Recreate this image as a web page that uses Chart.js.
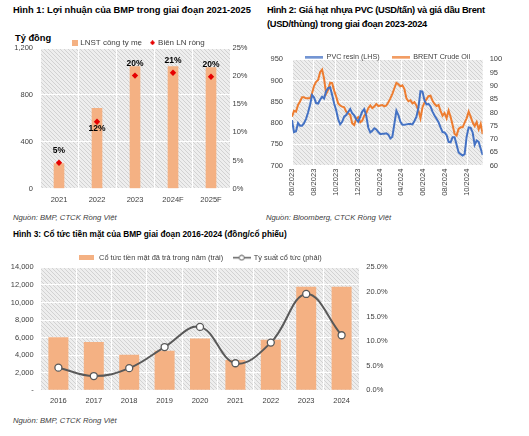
<!DOCTYPE html>
<html>
<head>
<meta charset="utf-8">
<script src="https://cdn.jsdelivr.net/npm/chart.js@4.4.1/dist/chart.umd.min.js"></script>
<style>
body { margin: 0; background: #fff; }
#page { position: relative; width: 529px; height: 436px; overflow: hidden; font-family: "Liberation Sans", Arial, sans-serif; color: #000; }
.t { position: absolute; font-weight: bold; font-size: 9.3px; line-height: 12px; white-space: nowrap; }
.src { position: absolute; font-style: italic; font-size: 7.7px; line-height: 10px; color: #404040; white-space: nowrap; }
.box { position: absolute; }
</style>
</head>
<body>
<div id="page">
  <div class="t" style="left:13px;top:4px">Hình 1: Lợi nhuận của BMP trong giai đoạn 2021-2025</div>
  <div class="t" style="left:267px;top:4px;letter-spacing:-0.3px">Hình 2: Giá hạt nhựa PVC (USD/tấn) và giá dầu Brent</div>
  <div class="t" style="left:267px;top:18px;letter-spacing:-0.3px">(USD/thùng) trong giai đoạn 2023-2024</div>
  <div class="t" style="left:15px;top:32px">Tỷ đồng</div>
  <div class="box" style="left:0;top:21px;width:262px;height:189px"><canvas id="c1" width="262" height="189"></canvas></div>
  <div class="box" style="left:262px;top:30px;width:267px;height:172px"><canvas id="c2" width="267" height="172"></canvas></div>
  <div class="src" style="left:13px;top:213px">Nguồn: BMP, CTCK Rồng Việt</div>
  <div class="src" style="left:266px;top:213px">Nguồn: Bloomberg, CTCK Rồng Việt</div>
  <div class="t" style="left:13px;top:228px;font-size:8.3px">Hình 3: Cổ tức tiền mặt của BMP giai đoạn 2016-2024 (đồng/cổ phiếu)</div>
  <div class="box" style="left:0;top:240px;width:400px;height:175px"><canvas id="c3" width="400" height="175"></canvas></div>
  <div class="src" style="left:13px;top:416px">Nguồn: BMP, CTCK Rồng Việt</div>
</div>
<script>
// ---- Hinh 1 data
const profitYears = ['2021', '2022', '2023', '2024F', '2025F'];
const netProfit = [216, 689, 1044, 1044, 1035];      // ty dong
const netMargin = [4.6, 11.9, 20.1, 20.6, 19.9];      // %
const marginLabelSide = ['above', 'below', 'above', 'above', 'above'];

// ---- Hinh 2 data (samples every ~5.5 days from early 06/2023)
const priceMonthLabels = ['06/2023', '08/2023', '10/2023', '12/2023', '02/2024', '04/2024', '06/2024', '08/2024', '10/2024'];
const priceStepMonths = 0.1835;
const pvcPrice = [
  807, 779, 781, 800, 794, 794, 800, 810, 825, 843,
  866, 860, 847, 846, 855, 862, 858, 875, 882, 884,
  866, 846, 830, 809, 797, 803, 815, 819, 826, 833,
  823, 818, 809, 803, 815, 827, 833, 817, 789, 778,
  782, 788, 785, 779, 774, 775, 775, 776, 773, 764,
  768, 798, 829, 819, 803, 796, 796, 797, 798, 798,
  797, 805, 815, 837, 875, 874, 853, 844, 845, 839,
  827, 818, 810, 802, 790, 779, 778, 772, 756, 755,
  767, 767, 749, 731, 727, 724, 727, 768, 790, 789,
  778, 749, 759, 756, 740, 725
];
const brentPrice = [
  78.4, 80.6, 80.3, 82.8, 84.1, 85.7, 85.7, 85.3, 85.3, 85.3,
  87.2, 90.0, 91.5, 92.2, 95.1, 96.1, 92.6, 87.0, 88.5, 91.2,
  91.0, 88.2, 86.0, 83.4, 82.6, 82.2, 81.9, 80.3, 79.7, 79.1,
  75.9, 75.3, 77.6, 78.2, 76.3, 76.9, 78.8, 79.7, 81.6, 82.6,
  81.6, 82.2, 83.2, 82.4, 82.6, 82.8, 82.3, 82.6, 83.8, 85.3,
  87.0, 89.1, 91.1, 90.6, 89.8, 90.2, 88.8, 85.3, 84.2, 84.6,
  83.4, 83.9, 82.6, 80.7, 77.8, 81.9, 83.7, 85.0, 86.1, 86.3,
  84.4, 83.2, 82.4, 82.8, 80.6, 78.8, 79.8, 77.8, 80.7, 78.4,
  75.3, 71.9, 71.3, 73.8, 74.4, 74.4, 76.2, 77.8, 80.3, 78.4,
  76.2, 74.9, 76.4, 73.7, 75.7, 71.9
];

// ---- Hinh 3 data
const divYears = ['2016', '2017', '2018', '2019', '2020', '2021', '2022', '2023', '2024'];
const cashDividend = [6050, 5500, 4050, 4500, 5900, 3450, 5750, 11800, 11800];   // dong/cp
const divYield = [4.6, 2.9, 4.5, 8.8, 12.9, 5.5, 9.7, 19.6, 11.2];               // %

const FONT = '"Liberation Sans", Arial, sans-serif';
Chart.defaults.font.family = FONT;
Chart.defaults.font.size = 7.5;
Chart.defaults.color = '#404040';
Chart.defaults.animation = false;

const ORANGE_BAR = '#f4b183';

function hatchPattern(ctx) {
  const c = document.createElement('canvas');
  c.width = 4; c.height = 4;
  const g = c.getContext('2d');
  g.fillStyle = '#eeeeee';
  g.fillRect(0, 0, 4, 4);
  g.fillStyle = '#d2d2d2';
  for (let i = 0; i < 4; i++) g.fillRect(i, i, 1, 1);
  return ctx.createPattern(c, 'repeat');
}

// hatched plot background, bounded by the x / left-y scales
const plotBg = {
  id: 'plotBg',
  beforeDraw(chart) {
    const { ctx } = chart;
    const x = chart.scales.x, y = chart.scales.y;
    ctx.save();
    ctx.fillStyle = hatchPattern(ctx);
    ctx.fillRect(x.left, y.top, x.right - x.left, y.bottom - y.top);
    ctx.restore();
  }
};

// move the legend box after layout so it can sit close to / over the plot
const legendShift = {
  id: 'legendShift',
  afterLayout(chart, args, opts) {
    const lg = chart.legend;
    lg.top += opts.dy || 0; lg.bottom += opts.dy || 0;
    lg.left += opts.dx || 0; lg.right += opts.dx || 0;
  }
};

function mark(w, h, draw) {
  const c = document.createElement('canvas');
  c.width = w; c.height = h;
  draw(c.getContext('2d'));
  return c;
}

function legendWith(marks) {
  return function (chart) {
    const items = Chart.defaults.plugins.legend.labels.generateLabels(chart);
    items.forEach(it => { it.pointStyle = marks[it.datasetIndex]; });
    return items.sort((a, b) => a.datasetIndex - b.datasetIndex);
  };
}

const fixW = w => s => { s.width = w; };
const fixH = h => s => { s.height = h; };

// ================= Hinh 1 =================
const marks1 = [
  mark(6, 6, g => { g.fillStyle = ORANGE_BAR; g.fillRect(0, 0, 6, 6); }),
  mark(5, 5, g => { g.fillStyle = '#e60000'; g.beginPath(); g.moveTo(2.5, 0); g.lineTo(5, 2.5); g.lineTo(2.5, 5); g.lineTo(0, 2.5); g.fill(); })
];

const marginLabels = {
  id: 'marginLabels',
  afterDatasetsDraw(chart) {
    const meta = chart.getDatasetMeta(1);
    const ctx = chart.ctx;
    ctx.save();
    ctx.font = 'bold 8.5px ' + FONT;
    ctx.fillStyle = '#000';
    ctx.textAlign = 'center';
    ctx.textBaseline = 'middle';
    meta.data.forEach((pt, i) => {
      const dy = marginLabelSide[i] === 'below' ? 7 : -12;
      ctx.fillText(Math.round(netMargin[i]) + '%', pt.x, pt.y + dy);
    });
    ctx.restore();
  }
};

new Chart(document.getElementById('c1'), {
  type: 'bar',
  data: {
    labels: profitYears,
    datasets: [
      { label: 'LNST công ty mẹ', data: netProfit, backgroundColor: ORANGE_BAR, yAxisID: 'y',
        categoryPercentage: 1, barPercentage: 0.28, order: 1 },
      { type: 'line', label: 'Biên LN ròng', data: netMargin, yAxisID: 'y1', showLine: false,
        pointStyle: 'rectRot', pointRadius: 3.2, backgroundColor: '#e60000', borderColor: '#e60000',
        borderWidth: 0, order: 0 }
    ]
  },
  options: {
    responsive: false,
    layout: { padding: 0 },
    plugins: {
      legend: { position: 'top', labels: { usePointStyle: true, pointStyleWidth: 3, padding: 9, font: { size: 8 }, generateLabels: legendWith(marks1) } },
      legendShift: { dy: 8.7, dx: 8 },
      tooltip: { enabled: false }
    },
    scales: {
      x: { grid: { color: '#ffffff', lineWidth: 1, drawTicks: false }, border: { display: false },
           ticks: { padding: 6.5 }, afterFit: fixH(21.3) },
      y: { position: 'left', min: 0, max: 1200, grid: { color: '#ffffff', drawTicks: false }, border: { display: false },
           ticks: { stepSize: 400, padding: 7, callback: v => v.toLocaleString('en-US') }, afterFit: fixW(40) },
      y1: { position: 'right', min: 0, max: 25, grid: { display: false, drawTicks: false }, border: { display: false },
            ticks: { stepSize: 5, padding: 2.5, callback: v => v + '%' }, afterFit: fixW(32) }
    }
  },
  plugins: [plotBg, legendShift, marginLabels]
});

// ================= Hinh 2 =================
const marks2 = [
  mark(18, 3, g => { g.fillStyle = '#4472c4'; g.fillRect(0, 0.5, 18, 2); }),
  mark(18, 3, g => { g.fillStyle = '#ed7d31'; g.fillRect(0, 0.5, 18, 2); })
];

new Chart(document.getElementById('c2'), {
  type: 'line',
  data: {
    datasets: [
      { label: 'PVC resin (LHS)', data: pvcPrice.map((v, i) => ({ x: i * priceStepMonths, y: v })), yAxisID: 'y',
        borderColor: '#4472c4', borderWidth: 2, pointRadius: 0, tension: 0 },
      { label: 'BRENT Crude Oil', data: brentPrice.map((v, i) => ({ x: i * priceStepMonths, y: v })), yAxisID: 'y1',
        borderColor: '#ed7d31', borderWidth: 2, pointRadius: 0, tension: 0 }
    ]
  },
  options: {
    responsive: false,
    layout: { padding: 0 },
    plugins: {
      legend: { position: 'top', labels: { usePointStyle: true, pointStyleWidth: 18, padding: 12, font: { size: 7.2 }, generateLabels: legendWith(marks2) } },
      legendShift: { dy: 11.4, dx: -8 },
      tooltip: { enabled: false }
    },
    scales: {
      x: { type: 'linear', min: 0, max: (pvcPrice.length - 1) * priceStepMonths,
           grid: { color: '#ffffff', drawTicks: false }, border: { display: false },
           afterBuildTicks: s => { s.ticks = priceMonthLabels.map((l, i) => ({ value: i * 2 })); },
           ticks: { autoSkip: false, minRotation: 90, maxRotation: 90, padding: 3,
                    callback: (v, i) => priceMonthLabels[i] },
           afterFit: fixH(36.3) },
      y: { position: 'left', min: 700, max: 950, grid: { color: '#ffffff', drawTicks: false }, border: { display: false },
           ticks: { stepSize: 50, padding: 9 }, afterFit: fixW(30) },
      y1: { position: 'right', min: 60, max: 100, grid: { display: false, drawTicks: false }, border: { display: false },
            ticks: { stepSize: 5, padding: 7 }, afterFit: fixW(46.3) }
    }
  },
  plugins: [plotBg, legendShift]
});

// ================= Hinh 3 =================
const marks3 = [
  mark(15, 5, g => { g.fillStyle = ORANGE_BAR; g.fillRect(0, 0, 15, 5); }),
  mark(18, 7, g => {
    g.strokeStyle = '#595959'; g.lineWidth = 1.5;
    g.beginPath(); g.moveTo(0, 3.5); g.lineTo(18, 3.5); g.stroke();
    g.fillStyle = '#fff'; g.lineWidth = 1;
    g.beginPath(); g.arc(9, 3.5, 2.5, 0, Math.PI * 2); g.fill(); g.stroke();
  })
];

new Chart(document.getElementById('c3'), {
  type: 'bar',
  data: {
    labels: divYears,
    datasets: [
      { label: 'Cổ tức tiền mặt đã trả trong năm (trái)', data: cashDividend, backgroundColor: ORANGE_BAR, yAxisID: 'y',
        categoryPercentage: 1, barPercentage: 0.565, order: 1 },
      { type: 'line', label: 'Tỷ suất cổ tức (phải)', data: divYield, yAxisID: 'y1',
        borderColor: '#595959', borderWidth: 2, tension: 0.4,
        pointRadius: 3.5, pointBackgroundColor: '#ffffff', pointBorderColor: '#595959', pointBorderWidth: 1.3, order: 0 }
    ]
  },
  options: {
    responsive: false,
    layout: { padding: 0 },
    plugins: {
      legend: { position: 'top', labels: { usePointStyle: true, pointStyleWidth: 17, padding: 10, font: { size: 7.4 }, generateLabels: legendWith(marks3) } },
      legendShift: { dy: 4, dx: 0 },
      tooltip: { enabled: false }
    },
    scales: {
      x: { grid: { color: '#ffffff', drawTicks: false }, border: { display: false },
           ticks: { padding: 6 }, afterFit: fixH(24.7) },
      y: { position: 'left', min: 0, max: 14000, grid: { color: '#ffffff', drawTicks: false }, border: { display: false },
           ticks: { stepSize: 2000, padding: 7, callback: v => v === 0 ? '-' : v.toLocaleString('en-US') }, afterFit: fixW(40.7) },
      y1: { position: 'right', min: 0, max: 25, grid: { display: false, drawTicks: false }, border: { display: false },
            ticks: { stepSize: 5, padding: 7, callback: v => v.toFixed(1) + '%' }, afterFit: fixW(40.7) }
    }
  },
  plugins: [plotBg, legendShift]
});
</script>
</body>
</html>
